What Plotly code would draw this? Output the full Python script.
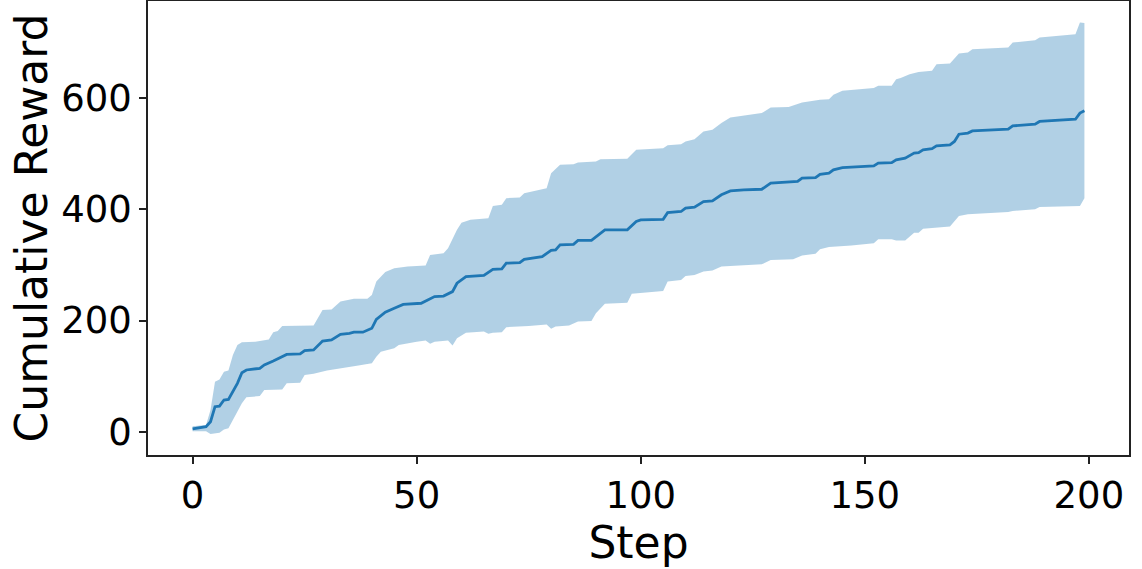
import plotly.graph_objects as go

# Mean cumulative reward (step, value)
mean_steps = [0, 3, 4, 5, 6, 7, 8, 10, 11, 12, 15, 16, 18, 21, 24, 25, 27, 29, 31, 33, 35, 36, 38, 40, 41, 43, 45, 47,
              51, 54, 56, 58, 59, 61, 65, 67, 69, 70, 73, 74, 78, 80, 81, 82, 85, 86, 89, 92, 97, 99, 100, 105, 106,
              109, 110, 112, 114, 116, 118, 120, 123, 127, 129, 135, 136, 139, 140, 142, 143, 145, 152, 153, 156, 157,
              159, 161, 162, 163, 165, 166, 169, 170, 171, 173, 174, 182, 183, 188, 189, 197, 198, 199]
mean_vals = [5, 9, 18, 45, 46, 57, 58, 87, 106, 111, 114, 120, 127, 139, 140, 146, 147, 163, 165, 175, 177, 179, 179,
             186, 202, 215, 222, 229, 231, 243, 244, 252, 267, 279, 281, 292, 293, 303, 304, 310, 315, 326, 327, 336,
             337, 344, 344, 363, 363, 378, 381, 382, 394, 396, 402, 404, 414, 415, 426, 433, 435, 436, 447, 450, 456,
             457, 463, 465, 471, 475, 478, 483, 484, 489, 492, 501, 502, 507, 509, 514, 516, 522, 535, 537, 541, 544,
             550, 553, 558, 562, 573, 577]

# Upper edge of the shaded band
upper_steps = [0, 3, 4, 5, 6, 7, 8, 9, 10, 11, 14, 17, 18, 19, 20, 27, 29, 31, 33, 36, 39, 40, 41, 43, 45, 48, 52, 53,
               56, 57, 59, 60, 62, 66, 67, 69, 70, 73, 74, 76, 79, 80, 82, 85, 86, 90, 91, 97, 99, 105, 106, 109, 110,
               112, 114, 116, 118, 120, 122, 127, 129, 133, 136, 140, 142, 143, 145, 152, 153, 156, 157, 158, 160, 162,
               165, 166, 169, 171, 173, 174, 182, 183, 188, 189, 197, 198, 199]
upper_vals = [10, 12, 39, 90, 94, 108, 110, 138, 156, 161, 162, 166, 179, 181, 190, 191, 219, 220, 234, 239, 239, 246,
              270, 287, 294, 297, 299, 318, 321, 330, 363, 376, 381, 384, 406, 408, 420, 421, 429, 433, 438, 465, 480,
              481, 484, 486, 490, 491, 507, 510, 515, 517, 522, 526, 540, 543, 555, 565, 567, 573, 583, 584, 592, 597,
              598, 606, 613, 618, 622, 622, 634, 636, 643, 647, 649, 661, 662, 680, 682, 688, 691, 700, 704, 709, 715,
              736, 735]

# Lower edge of the shaded band
lower_steps = [0, 3, 4, 6, 7, 8, 9, 11, 12, 15, 16, 20, 21, 24, 25, 27, 30, 33, 37, 40, 41, 42, 45, 46, 50, 52, 53, 54,
               57, 58, 59, 61, 65, 66, 67, 69, 70, 75, 79, 80, 81, 84, 86, 89, 90, 92, 97, 98, 101, 105, 106, 109, 110,
               112, 114, 116, 118, 120, 127, 129, 134, 136, 139, 140, 142, 147, 152, 153, 156, 157, 159, 161, 162, 163,
               169, 171, 173, 182, 183, 188, 189, 198, 199]
lower_vals = [1, 1, -4, -2, 4, 6, 21, 51, 62, 64, 75, 76, 87, 88, 102, 104, 110, 114, 119, 123, 135, 144, 150, 156,
              162, 164, 158, 162, 164, 155, 168, 178, 180, 176, 178, 179, 188, 190, 193, 185, 189, 191, 198, 199, 213,
              230, 232, 248, 250, 253, 270, 273, 280, 282, 288, 290, 297, 298, 301, 309, 310, 317, 320, 328, 332, 335,
              339, 346, 346, 344, 344, 358, 358, 365, 369, 388, 391, 395, 397, 400, 404, 406, 420]

x_ticks = [0, 50, 100, 150, 200]
y_ticks = [0, 200, 400, 600]

BLUE = "#1f77b4"
FONT = "DejaVu Sans"

fig = go.Figure()
fig.add_trace(go.Scatter(
    x=upper_steps + lower_steps[::-1],
    y=upper_vals + lower_vals[::-1],
    fill="toself",
    fillcolor="rgba(31,119,180,0.35)",
    line=dict(width=0),
    mode="lines",
    hoverinfo="skip",
    showlegend=False,
))
fig.add_trace(go.Scatter(
    x=mean_steps, y=mean_vals, mode="lines",
    line=dict(color=BLUE, width=2.8),
    showlegend=False,
))

axis_common = dict(
    showgrid=False, zeroline=False, automargin=False,
    showline=True, linecolor="#222222", linewidth=1.5, mirror=True,
    ticks="outside", ticklen=7, tickwidth=1.5, tickcolor="#222222",
    tickfont=dict(family=FONT, size=37, color="black"),
)

fig.update_layout(
    width=1142, height=569,
    margin=dict(l=148, r=13, t=1, b=114),
    paper_bgcolor="white", plot_bgcolor="white",
    font=dict(family=FONT, color="black"),
    xaxis=dict(range=[-9.95, 208.95], tickvals=x_ticks,
               title=dict(text="Step", font=dict(family=FONT, size=44), standoff=0),
               **axis_common),
    yaxis=dict(range=[-41.9, 774.6], tickvals=y_ticks,
               title=dict(text="Cumulative Reward", font=dict(family=FONT, size=44), standoff=0),
               **axis_common),
)

fig.write_html("out.html", config={"displayModeBar": False},
               post_script="document.body.style.margin='0px';document.body.style.overflow='hidden';")
